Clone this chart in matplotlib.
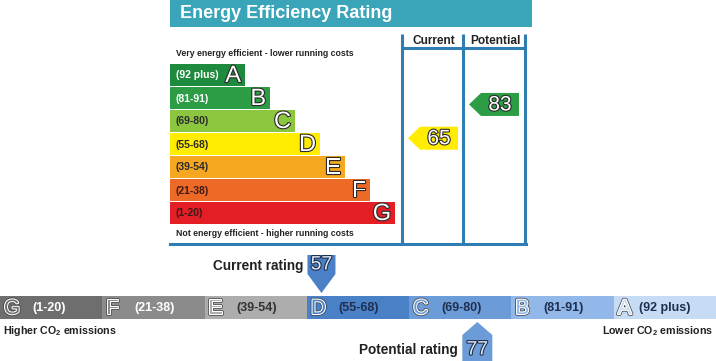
import numpy as np
import matplotlib
matplotlib.use("Agg")
import matplotlib.pyplot as plt
from matplotlib.patches import Polygon, Rectangle
import matplotlib.patheffects as pe

plt.rcParams['font.family'] = ['Liberation Sans', 'DejaVu Sans']
plt.rcParams['mathtext.fontset'] = 'custom'
plt.rcParams['mathtext.rm'] = 'Liberation Sans:bold'
plt.rcParams['mathtext.bf'] = 'Liberation Sans:bold'

# ---------------- data ----------------
bands = ['A', 'B', 'C', 'D', 'E', 'F', 'G']
band_ranges = ['(92 plus)', '(81-91)', '(69-80)', '(55-68)', '(39-54)', '(21-38)', '(1-20)']
band_lo = [92, 81, 69, 55, 39, 21, 1]
band_hi = [100, 91, 80, 68, 54, 38, 20]
band_colors = ['#1d8a3d', '#2c9d45', '#8cc63f', '#ffec00', '#f5a81f', '#ec6a25', '#e31e25']
band_text_colors = ['white', 'white', '#2a2a2a', '#2a2a2a', '#2a2a2a', '#3a1a1a', '#3a1a1a']

eer_current = 65
eer_potential = 83

co2_bands = ['G', 'F', 'E', 'D', 'C', 'B', 'A']
co2_ranges = ['(1-20)', '(21-38)', '(39-54)', '(55-68)', '(69-80)', '(81-91)', '(92 plus)']
co2_edges = [1, 21, 39, 55, 69, 81, 92, 101]
co2_colors = ['#6e6e6e', '#8b8b8b', '#adadad', '#4a80c6', '#6c9cd8', '#91b8e8', '#c6dcf5']
co2_text_colors = ['white', 'white', '#333333', '#1f2f4f', '#1f2f4f', '#1f2f4f', '#1f2f4f']
co2_current = 57
co2_potential = 77

title = 'Energy Efficiency Rating'
top_note = 'Very energy efficient - lower running costs'
bottom_note = 'Not energy efficient - higher running costs'

# ---------------- figure ----------------
fig = plt.figure(figsize=(7.16, 3.61), dpi=100)
ax = fig.add_axes([0, 0, 1, 1])
ax.set_xlim(0, 716)
ax.set_ylim(361, 0)
ax.axis('off')

line_c = '#2f7db3'
outline_dark = [pe.Stroke(linewidth=1.6, foreground='#2a2a2a'), pe.Normal()]

# title bar
ax.add_patch(Rectangle((170, 0), 362, 27, color='#3aa4b8', lw=0))
ax.text(180, 14, title, color='white', fontsize=13, fontweight='bold', va='center', ha='left')

# frame lines
left, c1, c2, right = 170, 402, 463, 525
top_y, head_y, bot_y = 34, 48, 244
for xv in (c1, c2, right):
    ax.plot([xv, xv], [top_y, bot_y], color=line_c, lw=2.2, solid_capstyle='butt')
ax.plot([c1, right], [head_y, head_y], color=line_c, lw=2.2)
ax.plot([left, right + 1], [bot_y, bot_y], color=line_c, lw=2.2)
ax.text((c1 + c2) / 2 + 1, 41, 'Current', fontsize=8.6, fontweight='bold', ha='center', va='center', color='#222222')
ax.text((c2 + right) / 2 + 1, 41, 'Potential', fontsize=8.6, fontweight='bold', ha='center', va='center', color='#222222')

ax.text(176, 54, top_note, fontsize=6.3, fontweight='bold', ha='left', va='center', color='#222222')
ax.text(176, 233, bottom_note, fontsize=6.3, fontweight='bold', ha='left', va='center', color='#222222')

# band bars
bar_h = 21.5
pitch = 23
y0 = 75
ys = y0 + pitch * np.arange(len(bands))
widths = 75 + 25 * np.arange(len(bands))
ax.barh(ys, widths, left=left, height=bar_h, color=band_colors, lw=0)
for i, (b, r) in enumerate(zip(bands, band_ranges)):
    ax.text(176, ys[i] + 0.5, r, fontsize=7.5, fontweight='bold', ha='left', va='center',
            color=band_text_colors[i])
    ax.text(left + widths[i] - 4, ys[i] + 1, b, fontsize=17, ha='right', va='center',
            color='white', path_effects=outline_dark)


def band_y(v):
    for i in range(len(bands)):
        if band_lo[i] <= v <= band_hi[i]:
            f = (v - band_lo[i]) / (band_hi[i] - band_lo[i])
            return ys[i] + bar_h / 2 - f * bar_h, i
    return ys[-1], len(bands) - 1


def left_arrow(xr, width, v):
    yc, i = band_y(v)
    hh = 11.5
    tip = 12
    xl = xr - width
    pts = [(xl, yc), (xl + tip, yc - hh), (xr, yc - hh), (xr, yc + hh), (xl + tip, yc + hh)]
    ax.add_patch(Polygon(pts, closed=True, color=band_colors[i], lw=0))
    ax.text((xl + tip + xr) / 2, yc + 0.5, str(v), fontsize=15, ha='center', va='center',
            color='white', path_effects=outline_dark)


left_arrow(c2 - 5, 50, eer_current)
left_arrow(right - 6, 50, eer_potential)

# ---------------- CO2 strip ----------------
seg_w = 716 / 7
strip_top, strip_h = 296, 23
xs = seg_w * np.arange(len(co2_bands))
ax.bar(xs, [strip_h] * len(xs), bottom=strip_top, width=seg_w, align='edge', color=co2_colors, lw=0)
for i, (b, r) in enumerate(zip(co2_bands, co2_ranges)):
    hollow = [pe.Stroke(linewidth=2.6, foreground='#3a3a3a'), pe.Stroke(linewidth=1.6, foreground='white'),
              pe.Normal()]
    ax.text(xs[i] + 4, strip_top + strip_h / 2 + 1, b, fontsize=15, ha='left', va='center',
            color=co2_colors[i], path_effects=hollow)
    off = 25 if b == 'A' else 32
    ax.text(xs[i] + off, strip_top + strip_h / 2 + 0.5, r, fontsize=9, fontweight='bold',
            ha='left', va='center', color=co2_text_colors[i])

ax.text(3, 331, r'Higher CO$_{2}$ emissions', fontsize=7.7, fontweight='bold', ha='left', va='center', color='#222222')
ax.text(713, 331, r'Lower CO$_{2}$ emissions', fontsize=7.7, fontweight='bold', ha='right', va='center', color='#222222')


def co2_x(v):
    return np.interp(v, co2_edges, seg_w * np.arange(len(co2_edges)))


def seg_index(v):
    return int(np.searchsorted(co2_edges, v, side='right') - 1)


num_fx = [pe.Stroke(linewidth=1.6, foreground='#1f2f4f'), pe.Normal()]

# current marker (points down)
xc = co2_x(co2_current)
ci = seg_index(co2_current)
pts = [(xc - 14, 255), (xc + 14, 255), (xc + 14, 274), (xc, 293), (xc - 14, 274)]
ax.add_patch(Polygon(pts, closed=True, color=co2_colors[ci], lw=0))
ax.text(xc, 265, str(co2_current), fontsize=14, ha='center', va='center', color='#dfe7f2',
        path_effects=num_fx)
ax.text(xc - 18, 266, 'Current rating', fontsize=9.8, fontweight='bold', ha='right', va='center', color='#222222')

# potential marker (points up)
xp = co2_x(co2_potential)
pi = seg_index(co2_potential)
pts = [(xp, 322), (xp + 15, 335), (xp + 15, 362), (xp - 15, 362), (xp - 15, 335)]
ax.add_patch(Polygon(pts, closed=True, color=co2_colors[pi], lw=0))
ax.text(xp, 350, str(co2_potential), fontsize=14, ha='center', va='center', color='#dfe7f2',
        path_effects=num_fx)
ax.text(xp - 20, 350, 'Potential rating', fontsize=9.8, fontweight='bold', ha='right', va='center', color='#222222')

fig.savefig('out.png', dpi=100, facecolor='white')
